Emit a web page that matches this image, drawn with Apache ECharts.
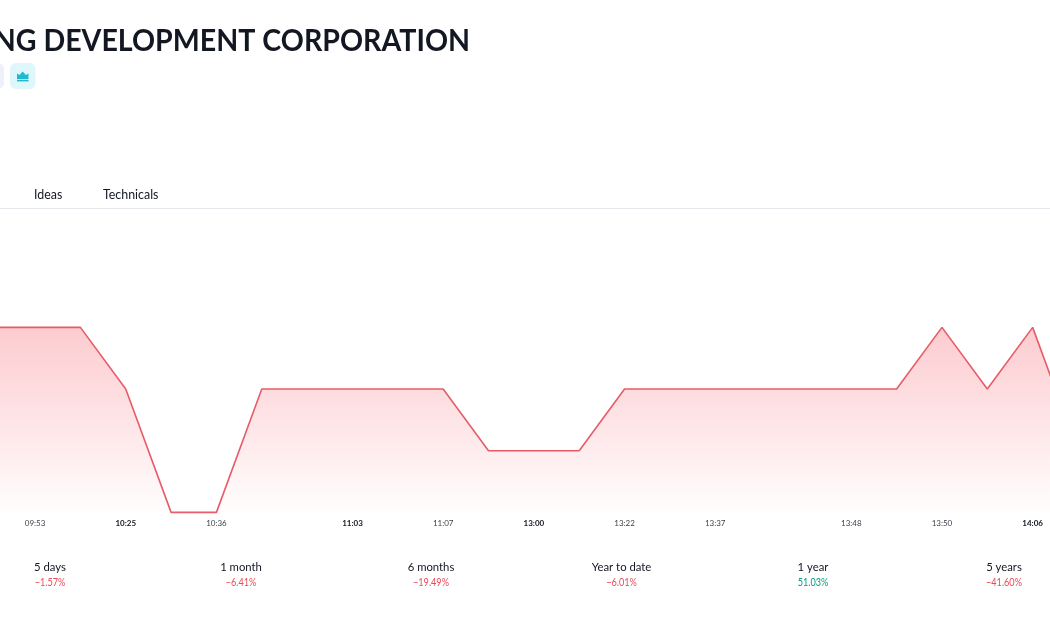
<!DOCTYPE html>
<html>
<head>
<meta charset="utf-8">
<style>html,body{margin:0;padding:0;background:#fff}#chart{width:1050px;height:630px}</style>
<script src="https://cdn.jsdelivr.net/npm/echarts@6/dist/echarts.min.js"></script>
</head>
<body>
<div id="chart"></div>
<script>
// Intraday session: tick labels, with blanks where the axis leaves a slot unlabelled.
const timeLabels = ['', '09:53', '', '10:25', '', '10:36', '', '', '11:03', '', '11:07', '', '13:00', '', '13:22', '', '13:37', '', '', '13:48', '', '13:50', '', '14:06', ''];
const boldLabels = ['10:25', '11:03', '13:00', '14:06'];
// Price steps relative to the session low (the price scale is not displayed).
const priceSteps = [3, 3, 3, 2, 0, 0, 2, 2, 2, 2, 2, 1, 1, 1, 2, 2, 2, 2, 2, 2, 2, 3, 2, 3, 1];
const tabNames = ['Ideas', 'Technicals'];
const periodNames = ['5 days', '1 month', '6 months', 'Year to date', '1 year', '5 years'];
const periodChanges = ['\u22121.57%', '\u22126.41%', '\u221219.49%', '\u22126.01%', '51.03%', '\u221241.60%'];

const RED = '#ee4a58', GREEN = '#089981', INK = '#131722';
const UI_FONT = 'Lato, "Noto Sans", sans-serif';
const tabX = [34, 103];
const periodX = [50, 241, 431, 621.5, 813, 1004];

const graphics = [
  { type: 'rect', shape: { x: -20, y: 63, width: 24, height: 26, r: 6 }, style: { fill: '#eef0fb' } },
  { type: 'rect', shape: { x: 10, y: 63, width: 25.5, height: 26, r: 6 }, style: { fill: '#dff6fa' } },
  // Crown badge
  { type: 'polygon', shape: { points: [[17, 79], [17, 73.5], [19.5, 75], [22.7, 71.5], [25.9, 75], [28.5, 73.5], [28.5, 79]] }, style: { fill: '#22b8d0' } },
  { type: 'rect', shape: { x: 17, y: 79.8, width: 11.5, height: 1.6 }, style: { fill: '#22b8d0' } },
  // Heading is condensed horizontally and runs off the left edge of the page.
  { type: 'text', x: 470, y: 40.5, scaleX: 0.922, style: { text: 'NG DEVELOPMENT CORPORATION', fill: INK, font: 'bold 31px ' + UI_FONT, align: 'right', verticalAlign: 'middle' } },
  { type: 'rect', shape: { x: 0, y: 208, width: 1050, height: 1 }, style: { fill: '#e6e8ee' } }
];
tabNames.forEach((name, i) => graphics.push({
  type: 'text', x: tabX[i], y: 194.5,
  style: { text: name, fill: INK, font: '12.4px ' + UI_FONT, verticalAlign: 'middle' }
}));
periodNames.forEach((name, i) => {
  graphics.push({
    type: 'text', x: periodX[i], y: 567,
    style: { text: name, fill: INK, font: '11.3px ' + UI_FONT, align: 'center', verticalAlign: 'middle' }
  });
  graphics.push({
    type: 'text', x: periodX[i], y: 582.5, scaleX: 0.76,
    style: { text: periodChanges[i], fill: periodChanges[i].startsWith('\u2212') ? RED : GREEN, font: '12px ' + UI_FONT, align: 'center', verticalAlign: 'middle' }
  });
});

const chart = echarts.init(document.getElementById('chart'), null, { renderer: 'canvas' });
chart.setOption({
  animation: false,
  backgroundColor: '#fff',
  // The plot runs past both page edges, so the line enters and leaves clipped.
  grid: { left: -10.3, right: -28, top: 327.4, height: 185, outerBoundsMode: 'none' },
  xAxis: {
    type: 'category',
    boundaryGap: false,
    data: timeLabels,
    axisLine: { show: false },
    axisTick: { show: false },
    splitLine: { show: false },
    axisLabel: {
      interval: 0,
      margin: 7,
      fontSize: 8,
      fontFamily: UI_FONT,
      color: '#3c3f4a',
      formatter: v => boldLabels.includes(v) ? '{b|' + v + '}' : v,
      rich: { b: { fontSize: 8, fontWeight: 'bold', color: INK, fontFamily: UI_FONT } }
    }
  },
  yAxis: { type: 'value', min: 0, max: 3, show: false },
  series: [{
    type: 'line',
    data: priceSteps,
    symbol: 'none',
    clip: false,
    lineStyle: { color: '#e65c69', width: 1.6 },
    areaStyle: {
      color: new echarts.graphic.LinearGradient(0, 0, 0, 1, [
        { offset: 0, color: 'rgba(245,50,65,0.36)' },
        { offset: 1, color: 'rgba(245,50,65,0.01)' }
      ])
    }
  }],
  graphic: graphics
});
</script>
</body>
</html>
